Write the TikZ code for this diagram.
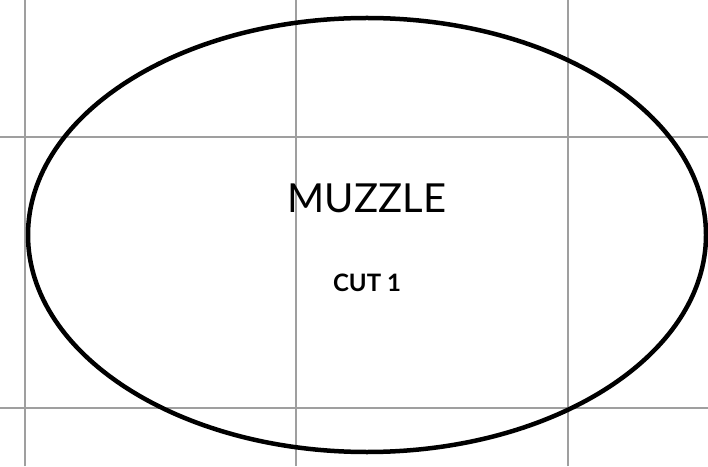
\documentclass[tikz,border=0pt]{standalone}
\usepackage{fontspec}
\setmainfont{Lato}
\usetikzlibrary{shapes.geometric}

\begin{document}
\begin{tikzpicture}[x=1pt,y=1pt]
    \useasboundingbox (0,0) rectangle (708,466);
    % grid
    \foreach \x in {25,296,568} \draw[line width=2pt,gray!75] (\x,0)--(\x,466);
    \foreach \y in {58,329} \draw[line width=2pt,gray!75] (0,\y)--(708,\y);
    \node[ellipse,draw,line width=4.5pt,minimum width=678pt,minimum height=434pt,inner sep=0pt] (muzzle) at (367,231) {};
    \node (label) at (367,268) {\fontsize{40}{44}\selectfont MUZZLE};
    \node (cut) at (367,183) {\fontsize{24}{28}\selectfont\bfseries CUT 1};
  \end{tikzpicture}
\end{document}
